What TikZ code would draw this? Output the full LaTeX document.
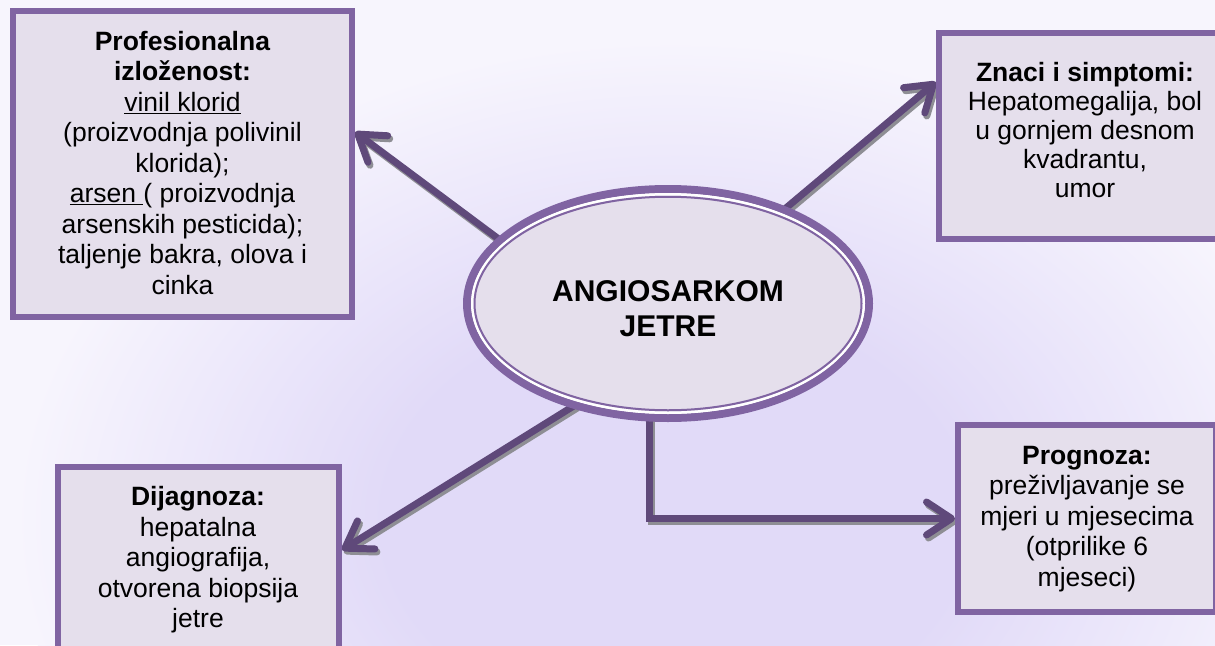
\documentclass[tikz,border=0pt]{standalone}
\usepackage{fontspec}
\setmainfont{Liberation Sans}
\usetikzlibrary{arrows.meta,shapes.geometric,backgrounds,calc}

\definecolor{frame}{HTML}{8064A2}
\definecolor{panel}{HTML}{E5DFEC}
\definecolor{linkpurple}{HTML}{5F497A}
\definecolor{linkshadow}{HTML}{8E8E94}
\definecolor{glow}{HTML}{E1DAF8}
\definecolor{paper}{HTML}{F7F5FD}

% soft lavender glow behind the whole chart
\pgfdeclareradialshading{glowfade}{\pgfpointorigin}{%
  color(0bp)=(glow); color(11bp)=(glow); color(25bp)=(paper); color(50bp)=(paper)}

\begin{document}
\begin{tikzpicture}[x=1pt,y=-1pt,
  card/.style={draw=frame, fill=panel, line width=6pt, rectangle, inner sep=0pt},
  cardtext/.style={align=center, inner sep=0pt, font=\fontsize{26.5}{30.5}\selectfont},
  linkbase/.style={line width=7pt, shorten <=-6pt,
    -{Straight Barb[length=25pt,width=33pt,round]}},
  linkmain/.style={linkbase, draw=linkpurple},
  linkshade/.style={linkbase, draw=linkshadow, transform canvas={shift={(2pt,-3pt)}}},
]
\useasboundingbox (0,0) rectangle (1215,645);

\begin{pgfonlayer}{background}
  \fill[paper] (0,0) rectangle (1215,645);
  \begin{scope}
    \clip (0,0) rectangle (1215,645);
    \shade[shading=glowfade] (675,520) ellipse [x radius=660pt, y radius=480pt];
  \end{scope}
\end{pgfonlayer}

% central topic
\node[ellipse, draw=frame, fill=panel, line width=8pt, inner sep=0pt,
      minimum width=402pt, minimum height=229pt] (e) at (668,303.5) {};
\draw[white, line width=2.5pt] (e.center) ellipse [x radius=195.75pt, y radius=109.25pt];
\draw[frame, line width=2pt] (e.center) ellipse [x radius=193.5pt, y radius=106.75pt];
\node[align=center, inner sep=0pt, font=\bfseries\fontsize{30}{35}\selectfont]
  (title) at (668,308.7) {ANGIOSARKOM\\JETRE};

% surrounding cards
\node[card, minimum width=339pt, minimum height=306pt] (b1) at (182.5,164) {};
\node[card, minimum width=292pt, minimum height=206pt] (b2) at (1085,136) {};
\node[card, minimum width=281pt, minimum height=185pt] (b3) at (198.5,559.5) {};
\node[card, minimum width=258pt, minimum height=187pt] (b4) at (1087,518.5) {};

\node[cardtext] (b1t) at (182.5,162.9) {\textbf{Profesionalna}\\
  \textbf{izloženost:}\\
  \underline{vinil klorid}\\
  (proizvodnja polivinil\\
  klorida);\\
  \underline{arsen~}( proizvodnja\\
  arsenskih pesticida);\\
  taljenje bakra, olova i\\
  cinka};
\node[cardtext, font=\fontsize{26.5}{29}\selectfont] (b2t) at (1085,129.9)
  {\textbf{Znaci i simptomi:}\\
  Hepatomegalija, bol\\
  u gornjem desnom\\
  kvadrantu,\\
  umor};
\node[cardtext] (b3t) at (198,559.7) {\textbf{Dijagnoza:}\\
  hepatalna\\
  angiografija,\\
  otvorena biopsija\\
  jetre};
\node[cardtext] (b4t) at (1087,518.7) {\textbf{Prognoza:}\\
  preživljavanje se\\
  mjeri u mjesecima\\
  (otprilike 6\\
  mjeseci)};

% arrow end points on the cards
\coordinate (t1) at ([yshift=32pt]b1.east);
\coordinate (t2) at ([yshift=54pt]b2.west);
\coordinate (t3) at ([yshift=9.5pt]b3.east);

\begin{pgfonlayer}{background}
  \draw[linkshade] (e.159) -- (t1);
  \draw[linkshade] (e.39) -- (t2);
  \draw[linkshade] (e.227) -- (t3);
  \draw[linkshade] (e.261) |- (b4.west);
  \draw[linkmain] (e.159) -- (t1);
  \draw[linkmain] (e.39) -- (t2);
  \draw[linkmain] (e.227) -- (t3);
  \draw[linkmain] (e.261) |- (b4.west);
\end{pgfonlayer}
\end{tikzpicture}
\end{document}
